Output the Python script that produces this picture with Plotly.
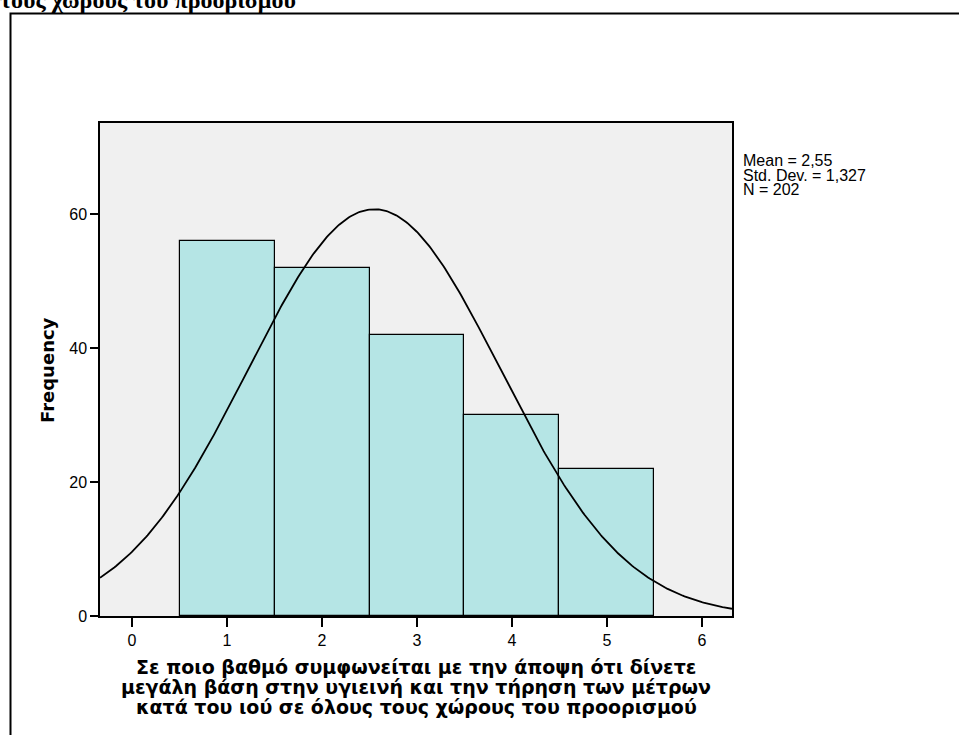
import numpy as np
import plotly.graph_objects as go

# ---- data ----
categories = [1, 2, 3, 4, 5]
frequencies = [56, 52, 42, 30, 22]
stat_mean = 2.55
stat_sd = 1.327
stat_n = 202
x_ticks = [0, 1, 2, 3, 4, 5, 6]
y_ticks = [0, 20, 40, 60]
x_range = [-0.337, 6.316]
y_range = [0, 73.6]
stats_lines = ["Mean = 2,55", "Std. Dev. = 1,327", "N = 202"]
x_title_lines = [
    "Σε ποιο βαθμό συμφωνείται με την άποψη ότι δίνετε",
    "μεγάλη βάση στην υγιεινή και την τήρηση των μέτρων",
    "κατά του ιού σε όλους τους χώρους του προορισμού",
]
top_text = "τους χώρους του προορισμού"
y_title = "Frequency"

# fitted normal curve (from mean, sd, N, bin width 1)
bin_width = 1.0
curve_x = np.linspace(x_range[0], x_range[1], 400)
curve_y = stat_n * bin_width / (stat_sd * np.sqrt(2 * np.pi)) * np.exp(-0.5 * ((curve_x - stat_mean) / stat_sd) ** 2)

W, H = 959, 735
L, R, T, B = 100, 732, 123, 616
PW, PH = R - L, B - T


def px(xp):
    return (xp - L) / PW


def py(yp):
    return (B - yp) / PH


fig = go.Figure()
fig.add_trace(go.Bar(
    x=categories, y=frequencies, width=1.0,
    marker=dict(color="#B5E5E5", line=dict(color="black", width=1.2)),
    showlegend=False, hoverinfo="x+y",
))
fig.add_trace(go.Scatter(
    x=curve_x, y=curve_y, mode="lines",
    line=dict(color="black", width=1.8), showlegend=False, hoverinfo="skip",
))

annotations = []
# stats box
for line, yc in zip(stats_lines, [160.5, 175, 189.5]):
    annotations.append(dict(
        text=line, xref="paper", yref="paper", x=px(742), y=py(yc),
        xanchor="left", yanchor="middle", showarrow=False, borderpad=0,
        font=dict(family="Liberation Sans, Arial", size=16, color="black"),
    ))
# x title lines
for line, yc in zip(x_title_lines, [667, 687, 707]):
    annotations.append(dict(
        text="<b>" + line + "</b>", xref="paper", yref="paper", x=px(416), y=py(yc),
        xanchor="center", yanchor="middle", showarrow=False, borderpad=0,
        font=dict(family="DejaVu Sans, Liberation Sans, Arial", size=19, color="black"),
    ))
# y title
annotations.append(dict(
    text="<b>" + y_title + "</b>", xref="paper", yref="paper", x=px(47), y=py(370),
    xanchor="center", yanchor="middle", showarrow=False, textangle=-90, borderpad=0,
    font=dict(family="DejaVu Sans, Liberation Sans, Arial", size=18, color="black"),
))
# cut-off heading at the very top
annotations.append(dict(
    text="<b>" + top_text + "</b>", xref="paper", yref="paper", x=px(-1), y=py(14),
    xanchor="left", yanchor="bottom", showarrow=False, borderpad=0,
    font=dict(family="Liberation Serif, Times New Roman", size=24, color="black"),
))

shapes = [dict(
    type="rect", xref="paper", yref="paper",
    x0=px(10.5), x1=px(990), y0=py(790), y1=py(13.5),
    line=dict(color="black", width=2), fillcolor="rgba(0,0,0,0)", layer="above",
)]

fig.update_layout(
    width=W, height=H,
    margin=dict(l=L, r=W - R, t=T, b=H - B, autoexpand=False),
    paper_bgcolor="white", plot_bgcolor="#F0F0F0",
    bargap=0, showlegend=False,
    annotations=annotations, shapes=shapes,
    xaxis=dict(
        range=x_range, tickvals=x_ticks, ticktext=[str(v) for v in x_ticks],
        showgrid=False, zeroline=False, showline=True, linecolor="black", linewidth=1.5,
        mirror=True, ticks="outside", ticklen=9, tickwidth=1.5, tickcolor="black",
        tickfont=dict(family="Liberation Sans, Arial", size=16, color="black"),
    ),
    yaxis=dict(
        range=y_range, tickvals=y_ticks, ticktext=[str(v) for v in y_ticks],
        showgrid=False, zeroline=False, showline=True, linecolor="black", linewidth=1.5,
        mirror=True, ticks="outside", ticklen=8, tickwidth=1.5, tickcolor="black",
        tickfont=dict(family="Liberation Sans, Arial", size=16, color="black"),
    ),
)

fig.write_html(
    "out.html",
    config={"displayModeBar": False},
    post_script="document.body.style.margin='0';document.body.style.overflow='hidden';",
)
